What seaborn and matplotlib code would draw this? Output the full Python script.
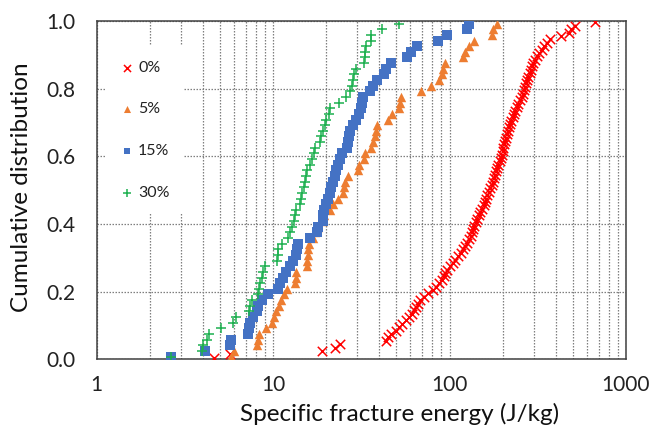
import numpy as np
import pandas as pd
import matplotlib
matplotlib.use("Agg")
import matplotlib.pyplot as plt
import seaborn as sns

# Specific fracture energy (J/kg), sorted, for each additive content
energy_0 = [
    4.6, 5.7, 18.9, 22.5, 24.0, 43.5, 45.0, 46.5, 49.5, 51.5,
    54.0, 56.5, 59.0, 61.0, 62.5, 64.5, 66.0, 68.0, 71.5, 75.5,
    80.5, 84.0, 87.5, 90.5, 92.5, 94.5, 96.5, 100.5, 104, 108,
    112, 115.5, 119, 123, 126, 129, 131.5, 134, 136, 138,
    141, 144, 146.5, 149, 153, 156, 159, 161.5, 164, 167,
    170, 173, 176, 179, 181, 183.5, 186, 189, 192, 195,
    198, 200, 202, 204.5, 207, 209.5, 212, 215, 218, 221,
    224, 227.5, 231, 236, 241, 245.5, 250, 256, 261, 264.5,
    268, 271.5, 275, 279.5, 284, 288.5, 293, 297, 304, 312,
    322, 333, 345, 358, 372, 430, 478, 490, 515, 668,
]
energy_5 = [
    5.8, 6.0, 8.15, 8.2, 8.3, 9.1, 9.8, 10.1, 10.4, 10.8,
    11.1, 11.5, 12.0, 13.3, 13.5, 13.5, 15.5, 15.5, 15.7, 15.8,
    16.0, 16.8, 17.3, 18.0, 19.2, 19.4, 21.0, 21.9, 23.3, 24.8,
    25.2, 25.4, 26.7, 30.1, 30.8, 32.9, 33.3, 35.7, 36.7, 37.6,
    38.2, 39.0, 44.8, 47.4, 51.5, 52.3, 53.3, 68.7, 78.2, 86.9,
    90.3, 92.2, 94.4, 119.7, 122.5, 129.3, 137.7, 175, 177, 186.7,
]
energy_15 = [
    2.63, 4.1, 5.7, 5.75, 7.2, 7.3, 7.4, 7.7, 8.05, 8.2,
    8.6, 9.4, 10.7, 10.95, 11.4, 11.9, 12.4, 13.0, 13.4, 13.6,
    13.8, 16.2, 17.7, 17.9, 19.1, 19.3, 19.4, 19.9, 20.5, 21.0,
    21.4, 21.8, 22.4, 22.8, 23.3, 24.0, 24.5, 26.1, 26.4, 26.8,
    27.3, 28.5, 29.5, 30.7, 31.5, 32.0, 32.5, 35.6, 36.7, 38.7,
    42.4, 43.5, 46.4, 57.2, 60.3, 65.7, 86.1, 97.2, 126, 129.5,
]
energy_30 = [
    2.65, 3.95, 4.02, 4.2, 4.35, 5.05, 5.95, 6.15, 7.3, 7.4,
    7.55, 8.2, 8.3, 8.45, 8.6, 8.8, 9.0, 10.5, 10.6, 10.7,
    11.3, 12.2, 12.4, 12.8, 13.1, 13.3, 13.5, 14.2, 14.4, 14.6,
    15.0, 15.2, 15.3, 15.5, 16.2, 16.6, 17.0, 17.3, 18.4, 18.8,
    19.3, 19.7, 19.9, 20.8, 20.9, 23.7, 25.8, 27.4, 27.9, 28.3,
    28.9, 29.5, 32.7, 33.0, 33.3, 33.6, 35.9, 36.0, 41.6, 51.9,
]

series_labels = ["0%", "5%", "15%", "30%"]
series_data = [energy_0, energy_5, energy_15, energy_30]
series_colors = ["#FF0000", "#ED7D31", "#4472C4", "#1DB04F"]
series_markers = ["x", "^", "s", "+"]
series_sizes = [46, 46, 42, 56]

x_ticks = [1, 10, 100, 1000]
x_tick_labels = ["1", "10", "100", "1000"]
y_ticks = [0.0, 0.2, 0.4, 0.6, 0.8, 1.0]


def ecdf_frame(values, label):
    """Hazen plotting positions: F_i = (i - 0.5) / n."""
    v = np.sort(np.asarray(values, dtype=float))
    n = len(v)
    f = (np.arange(1, n + 1) - 0.5) / n
    return pd.DataFrame({"energy": v, "F": f, "content": label})


sns.set_style("white")
plt.rcParams["font.family"] = ["Lato", "DejaVu Sans"]

fig = plt.figure(figsize=(6.49, 4.33), dpi=100)
ax = fig.add_axes([0.149, 0.170, 0.8155, 0.782])

for label, vals, col, mk, sz in zip(series_labels, series_data,
                                    series_colors, series_markers, series_sizes):
    df = ecdf_frame(vals, label)
    kw = dict(linewidth=1.1) if mk in ("x", "+") else dict(linewidth=0)
    sns.scatterplot(data=df, x="energy", y="F", ax=ax, marker=mk, color=col,
                    s=sz, label=label, zorder=3, **kw)

ax.set_xscale("log")
ax.set_xlim(1, 1000)
ax.set_ylim(0, 1.0)
ax.set_xticks(x_ticks)
ax.set_xticklabels(x_tick_labels)
ax.set_yticks(y_ticks)
ax.set_yticklabels([f"{t:.1f}" for t in y_ticks])
ax.xaxis.set_minor_locator(matplotlib.ticker.LogLocator(base=10, subs=np.arange(2, 10)))
ax.xaxis.set_minor_formatter(matplotlib.ticker.NullFormatter())

grid_kw = dict(color="#7f7f7f", linestyle=(0, (1.2, 1.2)), linewidth=0.9)
ax.grid(True, which="major", axis="both", **grid_kw)
ax.grid(True, which="minor", axis="x", **grid_kw)
ax.set_axisbelow(True)

ax.tick_params(axis="both", which="both", length=0, labelsize=15, colors="#222222")
ax.tick_params(axis="x", pad=11)
ax.tick_params(axis="y", pad=15)

for sp in ax.spines.values():
    sp.set_visible(True)
    sp.set_color("#404040")
    sp.set_linewidth(1.1)

ax.set_xlabel("Specific fracture energy (J/kg)", fontsize=17.5, color="#111111")
ax.xaxis.set_label_coords(0.573, -0.128)
ax.set_ylabel("Cumulative distribution", fontsize=17.5, color="#111111")
ax.yaxis.set_label_coords(-0.122, 0.51)

leg = ax.legend(loc="upper left", bbox_to_anchor=(0.018, 0.925), borderaxespad=0,
                frameon=True, fancybox=False, framealpha=1, edgecolor="none",
                facecolor="white", fontsize=11.5, markerscale=0.75,
                labelspacing=1.72, handlelength=0.8, handletextpad=0.3,
                borderpad=0.9)
for t in leg.get_texts():
    t.set_color("#222222")

fig.savefig("out.png", dpi=100)
